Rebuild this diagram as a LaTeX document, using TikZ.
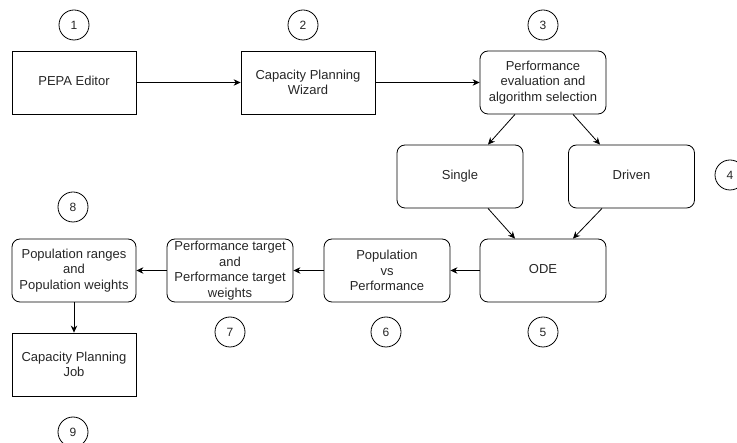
\documentclass[tikz,border=0pt]{standalone}
\usepackage{fontspec}
\setmainfont{Liberation Sans}
\usetikzlibrary{arrows.meta}
\begin{document}
\begin{tikzpicture}[x=1pt,y=-1pt,line width=0.8pt,
  stepbox/.style={draw,minimum width=126pt,minimum height=63pt,align=center,inner sep=1pt,text=black!85,font=\fontsize{13}{15.5}\selectfont},
  roundbox/.style={stepbox,rounded corners=8pt},
  num/.style={draw,circle,minimum size=30pt,inner sep=0pt,text=black!85,font=\fontsize{12}{14}\selectfont},
  flow/.style={-{Stealth[length=7pt,width=6.5pt]}}]
\useasboundingbox (0,0) rectangle (737,443);
\node[stepbox,minimum width=124pt](editor) at (74,82.5){PEPA Editor\strut};
\node[stepbox,minimum width=134pt](wizard) at (308,82.5){Capacity Planning\\Wizard};
\node[roundbox](perf) at (543,82.5){Performance\\evaluation and\\algorithm selection};
\node[roundbox](single) at (460,176.5){Single\strut};
\node[roundbox](driven) at (631.5,176.5){Driven\strut};
\node[roundbox](ode) at (543,270.5){ODE\strut};
\node[roundbox](popperf) at (387,270.5){Population\\vs\\Performance};
\node[roundbox](target) at (230,270.5){Performance target\\and\\Performance target\\weights};
\node[roundbox,minimum width=124pt](ranges) at (74,270.5){Population ranges\\and\\Population weights};
\node[stepbox,minimum width=124pt](job) at (74,364.5){Capacity Planning\\Job};
\foreach \x/\y[count=\i] in {74/25,303/25,543/25,730/175,543/332,386/332,230/332,73/207,73/432}
  \node[num](n\i) at (\x,\y){\i};
\draw[flow](editor)--(wizard);
\draw[flow](wizard)--(perf);
\draw[flow]([xshift=-28pt]perf.south)--([xshift=28pt]single.north);
\draw[flow]([xshift=30pt]perf.south)--([xshift=-31.5pt]driven.north);
\draw[flow]([xshift=28pt]single.south)--([xshift=-28pt]ode.north);
\draw[flow]([xshift=-29.5pt]driven.south)--([xshift=30pt]ode.north);
\draw[flow](ode)--(popperf);
\draw[flow](popperf)--(target);
\draw[flow](target)--(ranges);
\draw[flow](ranges)--(job);
\end{tikzpicture}
\end{document}
